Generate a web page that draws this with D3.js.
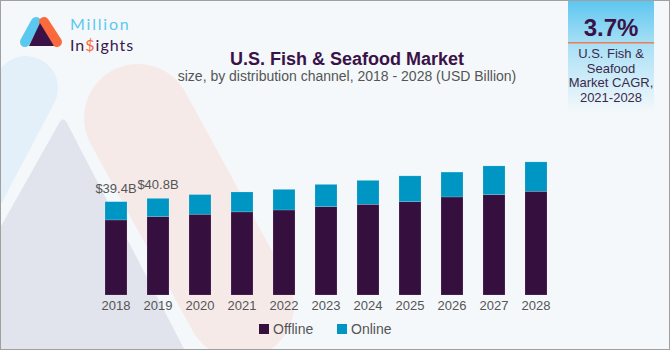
<!DOCTYPE html>
<html><head><meta charset="utf-8">
<script src="https://cdn.jsdelivr.net/npm/d3@7"></script>
<style>html,body{margin:0;padding:0;background:#f4f8fb;}svg{display:block;}</style>
</head><body>
<script>
const years = ["2018","2019","2020","2021","2022","2023","2024","2025","2026","2027","2028"];
const offline = [31.7,33.1,34.1,35.1,35.9,37.3,38.3,39.4,41.4,42.4,43.8];
const online  = [7.7,7.7,8.3,8.4,8.7,9.4,10.1,10.9,10.5,12.1,12.4];
const valueLabels = ["$39.4B","$40.8B"];
const seriesNames = ["Offline","Online"];
const colors = ["#35103f","#0096c4"];

const W=670,H=350;
const svg=d3.select("body").append("svg").attr("width",W).attr("height",H);
const defs=svg.append("defs");
const g1=defs.append("linearGradient").attr("id","cagr").attr("x1",0).attr("y1",0).attr("x2",0).attr("y2",1);
g1.append("stop").attr("offset","0%").attr("stop-color","#5cc6ef");
g1.append("stop").attr("offset","40%").attr("stop-color","#a9e0f6");
g1.append("stop").attr("offset","100%").attr("stop-color","#f4f8fb");

svg.append("rect").attr("width",W).attr("height",H).attr("fill","#f4f8fb");
// background decorative shapes
svg.append("line").attr("x1",26).attr("y1",88).attr("x2",-70).attr("y2",270)
  .attr("stroke","#e3f0f9").attr("stroke-width",64).attr("stroke-linecap","round");
svg.append("line").attr("x1",138).attr("y1",118).attr("x2",240).attr("y2",305)
  .attr("stroke","#f6eae9").attr("stroke-width",108).attr("stroke-linecap","round");
svg.append("path").attr("d","M-80,370 L58,125 Q63,114 68,125 L195,370 Z").attr("fill","#e1e4ec");

// logo
const logo=svg.append("g");
logo.append("line").attr("x1",25).attr("y1",42).attr("x2",36).attr("y2",22).attr("stroke","#5bc8f0").attr("stroke-width",10).attr("stroke-linecap","round");
logo.append("line").attr("x1",44).attr("y1",22).attr("x2",57).attr("y2",42).attr("stroke","#fb6a3c").attr("stroke-width",10).attr("stroke-linecap","round");
logo.append("path").attr("d","M40,23 L29,46 L54,46 Z").attr("fill","#3a1248");
logo.append("text").attr("x",70).attr("y",30).attr("font-family","Lato, 'DejaVu Sans', sans-serif").attr("font-size",16).attr("fill","#5bc8f0").attr("letter-spacing",1.8).text("Million");
const ins=logo.append("text").attr("x",70).attr("y",51).attr("font-family","Lato, 'DejaVu Sans', sans-serif").attr("font-size",16).attr("fill","#3a1a4a").attr("letter-spacing",1);
ins.append("tspan").text("In");
ins.append("tspan").attr("fill","#fb6a3c").text("$");
ins.append("tspan").text("ights");

// title
svg.append("text").attr("x",347).attr("y",65).attr("text-anchor","middle").attr("font-family","'Liberation Sans', Arial, sans-serif").attr("font-weight","bold").attr("font-size",18).attr("fill","#3a1248").text("U.S. Fish & Seafood Market");
svg.append("text").attr("x",347).attr("y",81).attr("text-anchor","middle").attr("font-family","'Liberation Sans', Arial, sans-serif").attr("font-size",14).attr("fill","#555").text("size, by distribution channel, 2018 - 2028 (USD Billion)");

// CAGR box
svg.append("rect").attr("x",568).attr("y",0).attr("width",86).attr("height",112).attr("fill","url(#cagr)");
svg.append("rect").attr("x",568).attr("y",42).attr("width",86).attr("height",1.5).attr("fill","#f07c50");
svg.append("text").attr("x",611).attr("y",36).attr("text-anchor","middle").attr("font-family","'Liberation Sans', Arial, sans-serif").attr("font-weight","bold").attr("font-size",24).attr("fill","#3a1248").text("3.7%");
["U.S. Fish &","Seafood","Market CAGR,","2021-2028"].forEach((t,i)=>{
  svg.append("text").attr("x",611).attr("y",58+i*14.7).attr("text-anchor","middle").attr("font-family","'Liberation Sans', Arial, sans-serif").attr("font-size",13).attr("fill","#3a2a4a").text(t);
});

// chart
const x=d3.scaleBand().domain(years).range([95,557]).paddingInner(0.476).paddingOuter(0.238);
const y=d3.scaleLinear().domain([0,57]).range([295,160]);
const data=years.map((yr,i)=>({year:yr,Offline:offline[i],Online:online[i]}));
const stack=d3.stack().keys(seriesNames)(data);
svg.append("g").selectAll("g").data(stack).join("g").attr("fill",(d,i)=>colors[i])
  .selectAll("rect").data(d=>d).join("rect")
  .attr("x",d=>x(d.data.year)).attr("width",x.bandwidth())
  .attr("y",d=>y(d[1])).attr("height",d=>y(d[0])-y(d[1]))
  .attr("stroke","rgba(255,255,255,0.25)").attr("stroke-width",0.6);

const ax=svg.append("g").attr("transform","translate(0,295)").call(d3.axisBottom(x).tickSize(0).tickPadding(6));
ax.select(".domain").remove();
ax.selectAll("text").attr("font-family","'Liberation Sans', Arial, sans-serif").attr("font-size",13).attr("fill","#555");

valueLabels.forEach((lab,i)=>{
  svg.append("text").attr("x",x(years[i])+x.bandwidth()/2).attr("y",y(offline[i]+online[i])-9)
    .attr("text-anchor","middle").attr("font-family","'Liberation Sans', Arial, sans-serif").attr("font-size",13).attr("fill","#555").text(lab);
});

// legend
const lx=[259,337];
seriesNames.forEach((n,i)=>{
  svg.append("rect").attr("x",lx[i]).attr("y",324).attr("width",10).attr("height",10).attr("fill",colors[i]);
  svg.append("text").attr("x",lx[i]+14).attr("y",334).attr("font-family","'Liberation Sans', Arial, sans-serif").attr("font-size",14).attr("fill","#555").text(n);
});

svg.append("rect").attr("x",0.5).attr("y",0.5).attr("width",W-1).attr("height",H-1).attr("fill","none").attr("stroke","#a0a0a0");
</script>
</body></html>
